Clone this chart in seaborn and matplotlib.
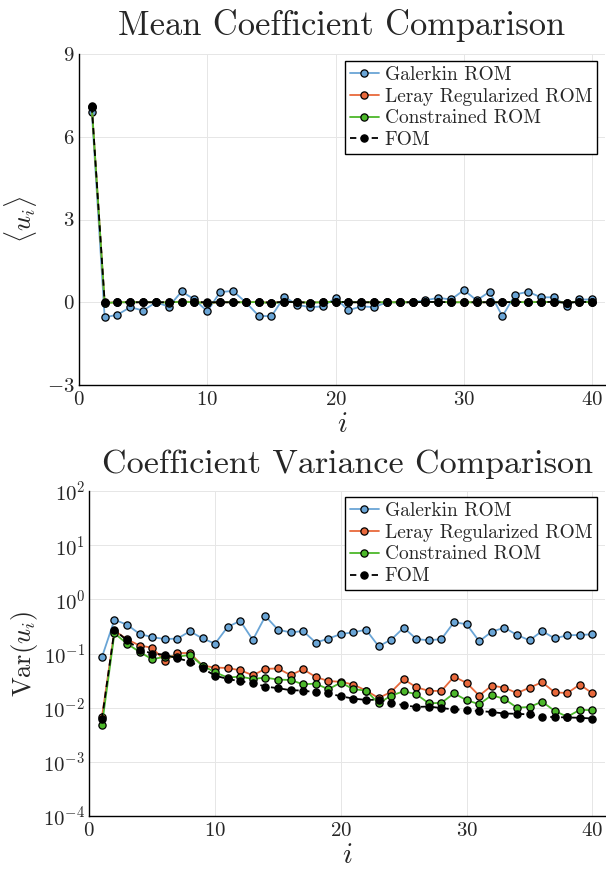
import numpy as np
import pandas as pd
import matplotlib
matplotlib.use("Agg")
import matplotlib.pyplot as plt
import seaborn as sns

# ---------------- data ----------------
modes = list(range(1, 41))

mean_galerkin = [6.90, -0.55, -0.45, -0.18, -0.30, 0.00, -0.16, 0.39, 0.10, -0.33,
                 0.37, 0.41, 0.00, -0.49, -0.51, 0.20, -0.09, -0.18, -0.15, 0.15,
                 -0.29, -0.15, -0.18, 0.00, 0.00, 0.00, 0.07, 0.16, 0.10, 0.44,
                 0.07, 0.38, -0.51, 0.28, 0.38, 0.18, 0.18, -0.12, 0.10, 0.10]
mean_leray = [7.08, -0.02, 0.00, 0.00, 0.00, 0.00, 0.00, 0.02, 0.01, -0.03,
              0.00, 0.00, 0.00, 0.01, -0.02, 0.02, 0.00, -0.01, 0.00, 0.02,
              0.00, 0.00, 0.00, 0.00, 0.00, 0.00, 0.01, 0.01, 0.00, 0.00,
              0.00, 0.00, 0.00, 0.01, 0.00, 0.01, 0.01, -0.01, 0.01, 0.01]
mean_constrained = [7.08, -0.03, 0.00, 0.00, 0.00, 0.00, -0.01, 0.02, 0.00, -0.02,
                    0.00, 0.00, 0.00, 0.01, -0.03, 0.01, 0.00, -0.01, 0.00, 0.02,
                    0.00, 0.00, 0.00, 0.00, 0.00, 0.00, 0.01, 0.01, 0.00, 0.00,
                    0.00, 0.00, 0.00, 0.01, 0.00, 0.01, 0.01, -0.01, 0.01, 0.01]
mean_fom = [7.10, 0.00, 0.00, 0.00, 0.00, 0.00, 0.00, 0.02, 0.01, 0.00,
            0.00, 0.00, 0.00, 0.02, -0.02, 0.02, 0.00, -0.01, 0.00, 0.02,
            0.00, 0.00, 0.00, 0.00, 0.00, 0.00, 0.01, 0.01, 0.00, 0.00,
            0.00, 0.00, 0.00, 0.01, 0.00, 0.01, 0.01, -0.01, 0.01, 0.01]

var_galerkin = [0.085, 0.42, 0.34, 0.23, 0.20, 0.185, 0.188, 0.257, 0.19, 0.152,
                0.31, 0.40, 0.178, 0.49, 0.275, 0.245, 0.26, 0.159, 0.188, 0.229,
                0.246, 0.275, 0.136, 0.18, 0.30, 0.185, 0.175, 0.185, 0.38, 0.346,
                0.168, 0.253, 0.30, 0.22, 0.175, 0.26, 0.19, 0.217, 0.22, 0.226]
var_leray = [0.0066, 0.264, 0.183, 0.14, 0.128, 0.073, 0.102, 0.102, 0.0597, 0.055,
             0.054, 0.049, 0.0397, 0.052, 0.053, 0.040, 0.051, 0.037, 0.031, 0.030,
             0.0267, 0.0207, 0.0151, 0.0195, 0.0334, 0.0238, 0.0204, 0.0204, 0.0374, 0.0286,
             0.0167, 0.0255, 0.0234, 0.0186, 0.0234, 0.0295, 0.0192, 0.0186, 0.0267, 0.0184]
var_constrained = [0.0047, 0.236, 0.152, 0.107, 0.078, 0.0875, 0.0875, 0.094, 0.0597, 0.045,
                   0.036, 0.0374, 0.0339, 0.0359, 0.033, 0.0324, 0.027, 0.0278, 0.0219, 0.029,
                   0.0219, 0.0207, 0.012, 0.0167, 0.0201, 0.0177, 0.012, 0.0123, 0.0184, 0.0137,
                   0.0116, 0.017, 0.0145, 0.010, 0.0103, 0.0129, 0.0087, 0.0068, 0.0091, 0.0090]
var_fom = [0.0061, 0.272, 0.175, 0.118, 0.10, 0.095, 0.0816, 0.071, 0.0533, 0.039,
           0.0339, 0.0307, 0.0286, 0.0245, 0.0229, 0.021, 0.0207, 0.0192, 0.0184, 0.0162,
           0.0147, 0.0139, 0.014, 0.0123, 0.0111, 0.0103, 0.0105, 0.0098, 0.0093, 0.0091,
           0.0087, 0.0083, 0.0078, 0.0077, 0.0075, 0.0068, 0.0067, 0.0066, 0.0065, 0.0063]

series_names = ["Galerkin ROM", "Leray Regularized ROM", "Constrained ROM", "FOM"]
top_titles = ["Mean Coefficient Comparison", "Coefficient Variance Comparison"]
mean_yticks = [-3, 0, 3, 6, 9]
var_yticks = [1e-4, 1e-3, 1e-2, 1e-1, 1e0, 1e1, 1e2]
xticks = [0, 10, 20, 30, 40]

# ---------------- style ----------------
sns.set_style("white")
plt.rcParams["font.family"] = ["cmr10", "DejaVu Serif"]
plt.rcParams["mathtext.fontset"] = "cm"
plt.rcParams["axes.formatter.use_mathtext"] = True
plt.rcParams["axes.unicode_minus"] = True

colors = {"Galerkin ROM": "#6aa5d6", "Leray Regularized ROM": "#e8693c",
          "Constrained ROM": "#4cb82a", "FOM": "#000000"}
dashes = {"Galerkin ROM": "", "Leray Regularized ROM": "", "Constrained ROM": "",
          "FOM": (3.5, 2.5)}

W, H = 606, 869
fig = plt.figure(figsize=(W / 100, H / 100), dpi=100)

ax1 = fig.add_axes([79 / W, 1 - 385 / H, (605 - 79) / W, (385 - 54) / H])
ax2 = fig.add_axes([89.3 / W, 1 - 816 / H, (605 - 89.3) / W, (816 - 491) / H])

def make_df(vals):
    rows = []
    for name, v in zip(series_names, vals):
        for i, y in zip(modes, v):
            rows.append({"i": i, "val": y, "series": name})
    return pd.DataFrame(rows)

df_mean = make_df([mean_galerkin, mean_leray, mean_constrained, mean_fom])
df_var = make_df([var_galerkin, var_leray, var_constrained, var_fom])

for ax, df in [(ax1, df_mean), (ax2, df_var)]:
    sns.lineplot(data=df, x="i", y="val", hue="series", style="series",
                 palette=colors, dashes=dashes, markers={n: "o" for n in series_names},
                 markersize=5.2, markeredgecolor="black", markeredgewidth=0.9,
                 linewidth=1.3, ax=ax, legend=True, sort=False)

# axes cosmetics
for ax in (ax1, ax2):
    for s in ["top", "right"]:
        ax.spines[s].set_visible(False)
    for s in ["left", "bottom"]:
        ax.spines[s].set_color("black")
        ax.spines[s].set_linewidth(1.0)
    ax.grid(True, color="#e6e6e6", linewidth=0.7)
    ax.set_axisbelow(True)
    ax.tick_params(axis="both", direction="in", length=3, width=0.6, color="#888888",
                   labelsize=15)
    ax.tick_params(axis="x", pad=4)
    ax.tick_params(axis="y", pad=3)
    ax.set_xlim(0, 41)
    ax.set_xticks(xticks)
    ax.set_xlabel(r"$i$", fontsize=21, labelpad=2)

ax1.set_ylim(-3, 9)
ax1.set_yticks(mean_yticks)
ax1.set_ylabel(r"$\langle u_i \rangle$", fontsize=19, labelpad=6)
ax1.set_title(top_titles[0], fontsize=24.8, pad=14)

ax2.set_yscale("log")
ax2.set_ylim(1e-4, 1e2)
ax2.set_yticks(var_yticks)
ax2.minorticks_off()
ax2.set_ylabel(r"$\mathrm{Var}(u_i)$", fontsize=19, labelpad=2)
ax2.set_title(top_titles[1], fontsize=24.5, pad=13)

for ax, loc in [(ax1, (0.985, 0.979)), (ax2, (0.9845, 0.9815))]:
    handles, labels = ax.get_legend_handles_labels()
    leg = ax.legend(handles, labels, loc="upper right", bbox_to_anchor=loc,
                    fontsize=14.0, frameon=True, fancybox=False, framealpha=1,
                    edgecolor="black", borderpad=0.25, labelspacing=0.2,
                    handlelength=1.5, handletextpad=0.3, borderaxespad=0.0)
    leg.get_frame().set_linewidth(1.0)

fig.savefig("out.png", dpi=100)
